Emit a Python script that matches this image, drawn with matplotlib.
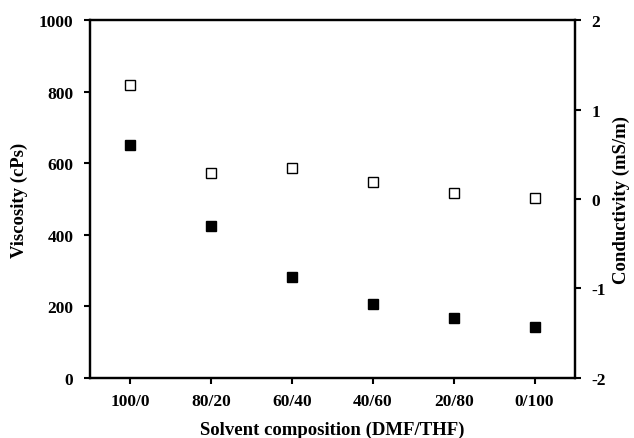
import matplotlib.pyplot as plt
import numpy as np

plt.rcParams['font.family'] = ['Liberation Serif', 'DejaVu Serif']
plt.rcParams['font.weight'] = 'bold'
plt.rcParams['axes.unicode_minus'] = False

compositions = ['100/0', '80/20', '60/40', '40/60', '20/80', '0/100']
viscosity = [652, 424, 282, 206, 167, 142]
conductivity = [1.27, 0.29, 0.35, 0.19, 0.07, 0.01]

fig = plt.figure(figsize=(6.34, 4.39), dpi=100)
ax = fig.add_axes([0.142, 0.137, 0.765, 0.815])
ax2 = ax.twinx()

x = np.arange(len(compositions))
ax.plot(x, viscosity, 's', color='black', markersize=7.5, linestyle='none')
ax2.plot(x, conductivity, 's', markerfacecolor='white', markeredgecolor='black',
         markeredgewidth=1.0, markersize=7.5, linestyle='none')

ax.set_xlim(-0.5, 5.5)
ax.set_ylim(0, 1000)
ax2.set_ylim(-2, 2)
ax.set_xticks(x)
ax.set_xticklabels(compositions)
ax.set_yticks([0, 200, 400, 600, 800, 1000])
ax2.set_yticks([-2, -1, 0, 1, 2])

for a in (ax, ax2):
    for s in a.spines.values():
        s.set_linewidth(1.6)
    a.tick_params(direction='out', width=1.5, length=4, labelsize=12.5)
ax.tick_params(axis='x', pad=7)
ax.tick_params(axis='y', pad=8)
ax2.tick_params(axis='y', pad=8)

ax.set_xlabel('Solvent composition (DMF/THF)', fontsize=13.5, fontweight='bold', labelpad=8)
ax.set_ylabel('Viscosity (cPs)', fontsize=13.5, fontweight='bold', labelpad=8)
ax2.set_ylabel('Conductivity (mS/m)', fontsize=13.5, fontweight='bold', labelpad=5)

fig.savefig('out.png', dpi=100)
